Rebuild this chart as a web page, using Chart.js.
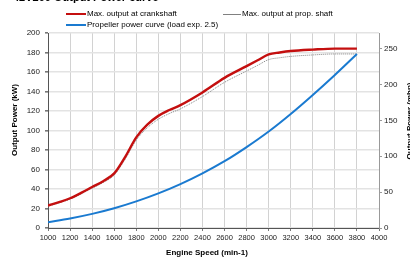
<!DOCTYPE html>
<html><head><meta charset="utf-8">
<script src="https://cdn.jsdelivr.net/npm/chart.js@4/dist/chart.umd.min.js"></script>
<style>
html,body{margin:0;padding:0;background:#fff;overflow:hidden;}
#wrap{position:relative;width:410px;height:262px;overflow:hidden;font-family:"Liberation Sans",Arial,sans-serif;}
#title{position:absolute;left:13px;top:-9px;font-weight:bold;font-size:11px;color:#000;white-space:nowrap;}
#chart{position:absolute;left:0;top:0;}
.lg{position:absolute;font-size:8px;color:#000;white-space:nowrap;line-height:10px;}
.sw{position:absolute;height:0;}
</style></head>
<body>
<div id="wrap">
<canvas id="chart" width="430" height="262"></canvas>
<div id="title">42V200 Output Power curve</div>
<div id="legend"></div>
</div>
<script>
const chartTitle = "42V200 Output Power curve";
const seriesNames = ["Max. output at crankshaft", "Max. output at prop. shaft", "Propeller power curve (load exp. 2.5)"];
const engineRpm = [1000,1100,1200,1300,1400,1500,1600,1700,1800,1900,2000,2100,2200,2400,2600,2800,2900,3000,3100,3200,3400,3600,3800];
const crankshaftKw = [23,26.5,30.5,36,42,48,56,73,93,106,115,121,126,139,154,166,172,178,180,181.5,183,184,184];
const propShaftKw = [22.3,25.7,29.6,35,40.8,46.6,54.3,70.8,90.2,102.8,111.5,117.4,122.2,134.8,149.4,161,166.8,172.7,174.6,176,177.5,178.5,178.5];
const propellerRpm = [1000,1200,1400,1600,1800,2000,2200,2400,2600,2800,3000,3200,3400,3600,3800];
const propellerKw = [6,9.8,14.5,20.3,27.3,35.5,45,56,68.5,83,99,117,136.5,157,178.5];
const xTitle = "Engine Speed (min-1)";
const yTitle = "Output Power (kW)";
const y2Title = "Output Power (mhp)";
const y2TickValues = [0,50,100,150,200,250];
const KW_TO_MHP = 1.35962;

const FONT = '"Liberation Sans", Arial, sans-serif';
const toPts = (xs, ys) => xs.map((x,i)=>({x:x, y:ys[i]}));
const plain = v => String(Math.round(v));

const colors = ['#c40f0f', '#808080', '#1a7ad0'];

const axisTitles = {
  id:'axisTitles',
  afterDraw(chart){
    const ctx = chart.ctx;
    ctx.save();
    ctx.fillStyle = '#000';
    ctx.font = 'bold 8px ' + FONT;
    ctx.textAlign = 'center';
    ctx.textBaseline = 'middle';
    ctx.fillText(chart.options.scales.x.title.text, 207, 253);
    ctx.save(); ctx.translate(15, 120); ctx.rotate(-Math.PI/2);
    ctx.fillText(chart.options.scales.y.title.text, 0, 0); ctx.restore();
    ctx.save(); ctx.translate(410, 121); ctx.rotate(-Math.PI/2);
    ctx.fillText(chart.options.scales.y2.title.text, 0, 0); ctx.restore();
    ctx.restore();
  }
};

const chart = new Chart(document.getElementById('chart'), {
  type:'line',
  data:{datasets:[
    {label:seriesNames[0], data:toPts(engineRpm, crankshaftKw), borderColor:colors[0], borderWidth:2.4, pointRadius:0, tension:0.4, cubicInterpolationMode:'monotone', fill:false, order:1},
    {label:seriesNames[1], data:toPts(engineRpm, propShaftKw), borderColor:colors[1], borderWidth:1, borderDash:[1,1], pointRadius:0, tension:0.4, cubicInterpolationMode:'monotone', fill:false, order:2},
    {label:seriesNames[2], data:toPts(propellerRpm, propellerKw), borderColor:colors[2], borderWidth:2, pointRadius:0, tension:0.4, cubicInterpolationMode:'monotone', fill:false, order:0}
  ]},
  options:{
    responsive:false, animation:false, events:[],
    layout:{padding:{top:33,left:0,right:0,bottom:0}},
    plugins:{legend:{display:false}, title:{display:false, text:chartTitle}, tooltip:{enabled:false}},
    scales:{
      x:{type:'linear', min:1000, max:4000,
         title:{display:false, text:xTitle},
         ticks:{stepSize:200, maxRotation:0, autoSkip:false, color:'#222', font:{family:FONT, size:7.5}, padding:2, callback:plain},
         grid:{color:'#d2d2d2', lineWidth:1, tickLength:3, tickColor:'#777'},
         border:{color:'#555', width:1},
         afterFit(s){ s.height = 34; }},
      y:{position:'left', min:0, max:200,
         title:{display:false, text:yTitle},
         ticks:{stepSize:20, color:'#222', font:{family:FONT, size:8}, padding:5, callback:plain},
         grid:{color:'#e3e3e3', lineWidth:1.6, tickLength:3, tickColor:'#777'},
         border:{color:'#555', width:1},
         afterFit(s){ s.width = 48; }},
      y2:{position:'right', min:0, max:200*KW_TO_MHP,
         title:{display:false, text:y2Title},
         afterBuildTicks(s){ s.ticks = y2TickValues.map(v=>({value:v})); },
         ticks:{color:'#222', font:{family:FONT, size:8}, padding:2, callback:plain},
         grid:{drawOnChartArea:false, tickLength:3, tickColor:'#999'},
         border:{color:'#999', width:1},
         afterFit(s){ s.width = 51; }}
    }
  },
  plugins:[axisTitles]
});

// legend (HTML)
const lg = document.getElementById('legend');
const legendPos = [{x:66,y:14,w:20},{x:223,y:14,w:18},{x:66,y:24.5,w:20}];
chart.data.datasets.forEach((ds,i)=>{
  const p = legendPos[i];
  const sw = document.createElement('div');
  sw.className='sw';
  sw.style.left = p.x+'px'; sw.style.width = p.w+'px';
  const lw = i===1 ? 1 : 2;
  sw.style.top = (p.y - lw/2)+'px';
  sw.style.borderTop = lw+'px solid '+ds.borderColor;
  lg.appendChild(sw);
  const t = document.createElement('div');
  t.className='lg';
  t.textContent = ds.label;
  t.style.left = (p.x+p.w+1)+'px';
  t.style.top = (p.y-5)+'px';
  lg.appendChild(t);
});
</script>
</body></html>
